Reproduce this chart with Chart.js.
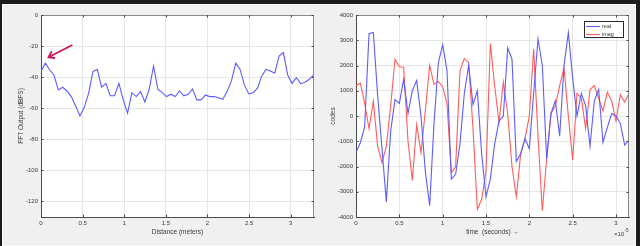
<!DOCTYPE html>
<html>
<head>
<meta charset="utf-8">
<script src="https://cdn.jsdelivr.net/npm/chart.js@4.4.0/dist/chart.umd.min.js"></script>
<style>
html, body { margin: 0; padding: 0; }
body { width: 640px; height: 246px; background: #1c1c1c; position: relative; overflow: hidden; }
#fig { position: absolute; left: 2px; top: 4px; width: 632px; height: 240px; background: #f0f0f0; border: 1px solid #fbfbfb; }
canvas { position: absolute; top: 0; }
#left { left: 0; }
#right { left: 320px; }
</style>
</head>
<body>
<div id="fig"></div>
<canvas id="left" width="320" height="246"></canvas>
<canvas id="right" width="320" height="246"></canvas>
<script>
'use strict';

// left plot: FFT magnitude vs distance
var distance = [
	0, 0.052, 0.104, 0.156, 0.208, 0.26, 0.312, 0.364, 0.416, 0.468,
	0.52, 0.572, 0.624, 0.676, 0.728, 0.78, 0.832, 0.884, 0.936, 0.988,
	1.04, 1.092, 1.144, 1.196, 1.248, 1.3, 1.352, 1.404, 1.456, 1.508,
	1.56, 1.612, 1.664, 1.716, 1.768, 1.82, 1.872, 1.924, 1.976, 2.028,
	2.08, 2.132, 2.184, 2.236, 2.288, 2.34, 2.392, 2.444, 2.496, 2.548,
	2.6, 2.652, 2.704, 2.756, 2.808, 2.86, 2.912, 2.964, 3.016, 3.068,
	3.12, 3.172, 3.224, 3.276
];
var fftDbfs = [
	-36.4, -31, -35.4, -38.6, -48.2, -46.5, -48.9, -52.5, -58.5, -65,
	-59.4, -50.4, -36.4, -35, -46.5, -44, -52, -52, -44, -54.6,
	-63.2, -50, -52.5, -49.3, -56, -47.8, -32.8, -47.8, -50, -52.5,
	-51, -52.5, -48.9, -52, -51, -47.6, -54.6, -54.6, -51.4, -52.5,
	-52.5, -53.2, -54.2, -49.3, -42.4, -31, -35, -45, -50.8, -50,
	-47.2, -39.2, -35, -36, -37.5, -26.4, -24.2, -38.6, -44, -40.3,
	-44.2, -43.3, -41.4, -38.6
];
var distanceTicks = [0, 0.5, 1, 1.5, 2, 2.5, 3];
var dbfsTicks = [-120, -100, -80, -60, -40, -20, 0];
// arrow annotation, in data units (tail -> tip)
var arrowTail = [0.37, -19.5];
var arrowTip = [0.09, -27.2];

// right plot: raw samples, time in units of 1e-5 s
var time = [
	0, 0.05, 0.1, 0.15, 0.2, 0.25, 0.3, 0.35, 0.4, 0.45,
	0.5, 0.55, 0.6, 0.65, 0.7, 0.75, 0.8, 0.85, 0.9, 0.95,
	1, 1.05, 1.1, 1.15, 1.2, 1.25, 1.3, 1.35, 1.4, 1.45,
	1.5, 1.55, 1.6, 1.65, 1.7, 1.75, 1.8, 1.85, 1.9, 1.95,
	2, 2.05, 2.1, 2.15, 2.2, 2.25, 2.3, 2.35, 2.4, 2.45,
	2.5, 2.55, 2.6, 2.65, 2.7, 2.75, 2.8, 2.85, 2.9, 2.95,
	3, 3.05, 3.1, 3.15
];
var realCodes = [
	-1450, -1060, -420, 3260, 3310, 800, -1300, -3400, -600, 650,
	500, 1450, 100, 1000, 1400, 0, -2200, -3550, -300, 2100,
	2820, 1800, -2500, -2300, -1100, 900, 2000, 450, 1000, -1500,
	-3200, -2500, -1100, -200, 0, 2700, 2250, -1800, -1500, -900,
	-1300, 900, 3050, 2000, -1700, 100, 600, -800, 2000, 3300,
	1500, 0, 900, 400, -1200, 600, 1050, -1050, -450, 100,
	0, -300, -1150, -950
];
var imagCodes = [
	1200, 1300, 500, -500, 580, -1200, -1850, -1200, 400, 2250,
	1950, 1930, -1000, -2550, -350, -1450, 200, 2000, 1250, 1370,
	1150, 500, -2250, -2000, 1800, 2280, 2100, -500, -3700, -3300,
	-2200, 2870, 1200, -250, 1350, 100, -2000, -3200, -1500, -900,
	0, 2650, -800, -3750, -1700, 100, 400, 1200, 1900, 0,
	-1750, 900, 700, -500, 1050, 1200, 700, 200, 950, 600,
	-200, 850, 550, 900
];
var timeTicks = [0, 0.5, 1, 1.5, 2, 2.5, 3];
var codeTicks = [-4000, -3000, -2000, -1000, 0, 1000, 2000, 3000, 4000];

var FONT = '"Liberation Sans", Arial, Helvetica, sans-serif',
	TEXT = '#3a3a3a',
	GRID = '#e6e6e6',
	AXIS = '#4a4a4a',
	BLUE = 'rgb(92, 92, 255)',
	RED = 'rgb(255, 92, 92)';

Chart.defaults.font.family = FONT;
Chart.defaults.color = TEXT;

function pairs(xs, ys) {
	return xs.map(function (x, i) {
		return { x: x, y: ys[i] };
	});
}

function fixedTicks(values) {
	return function (scale) {
		scale.ticks = values.map(function (v) {
			return { value: v };
		});
	};
}

function axis(min, max, tickValues, title, size, titlePad) {
	return {
		type: 'linear',
		min: min,
		max: max,
		afterBuildTicks: fixedTicks(tickValues),
		afterFit: function (scale) {
			if (scale.isHorizontal()) {
				scale.height = size;
			} else {
				scale.width = size;
			}
		},
		grid: { color: GRID, drawTicks: false },
		border: { color: AXIS, width: 1 },
		ticks: {
			font: { size: 6 },
			padding: 3,
			maxRotation: 0,
			autoSkip: false,
			callback: function (v) { return String(v); }
		},
		title: {
			display: true,
			text: title,
			font: { size: 6.5 },
			color: TEXT,
			padding: titlePad
		}
	};
}

// white axes background, drawn before the grid
var whiteArea = {
	id: 'whiteArea',
	beforeDraw: function (chart) {
		var a = chart.chartArea;
		chart.ctx.save();
		chart.ctx.fillStyle = '#fff';
		chart.ctx.fillRect(a.left, a.top, a.right - a.left, a.bottom - a.top);
		chart.ctx.restore();
	}
};

// box on top/right plus small inward tick marks, matlab style
var boxPlugin = {
	id: 'box',
	afterDraw: function (chart) {
		var a = chart.chartArea,
			ctx = chart.ctx,
			sx = chart.scales.x,
			sy = chart.scales.y;
		ctx.save();
		ctx.strokeStyle = '#8a8a8a';
		ctx.lineWidth = 1;
		ctx.beginPath();
		ctx.moveTo(a.left, a.top + 0.5);
		ctx.lineTo(a.right - 0.5, a.top + 0.5);
		ctx.lineTo(a.right - 0.5, a.bottom);
		ctx.stroke();
		ctx.strokeStyle = AXIS;
		ctx.beginPath();
		sx.ticks.forEach(function (t) {
			var px = Math.round(sx.getPixelForValue(t.value)) + 0.5;
			ctx.moveTo(px, a.bottom);
			ctx.lineTo(px, a.bottom - 2.5);
			ctx.moveTo(px, a.top);
			ctx.lineTo(px, a.top + 2.5);
		});
		sy.ticks.forEach(function (t) {
			var py = Math.round(sy.getPixelForValue(t.value)) + 0.5;
			ctx.moveTo(a.left, py);
			ctx.lineTo(a.left + 2.5, py);
			ctx.moveTo(a.right, py);
			ctx.lineTo(a.right - 2.5, py);
		});
		ctx.stroke();
		ctx.restore();
	}
};

var arrowPlugin = {
	id: 'arrow',
	afterDatasetsDraw: function (chart) {
		var sx = chart.scales.x,
			sy = chart.scales.y,
			ctx = chart.ctx,
			x0 = sx.getPixelForValue(arrowTail[0]),
			y0 = sy.getPixelForValue(arrowTail[1]),
			x1 = sx.getPixelForValue(arrowTip[0]),
			y1 = sy.getPixelForValue(arrowTip[1]),
			back = Math.atan2(y0 - y1, x0 - x1),
			head = 6;
		ctx.save();
		ctx.strokeStyle = '#cc1560';
		ctx.lineWidth = 1.8;
		ctx.lineCap = 'round';
		ctx.beginPath();
		ctx.moveTo(x0, y0);
		ctx.lineTo(x1, y1);
		ctx.moveTo(x1 + head * Math.cos(back - 0.6), y1 + head * Math.sin(back - 0.6));
		ctx.lineTo(x1, y1);
		ctx.lineTo(x1 + head * Math.cos(back + 0.6), y1 + head * Math.sin(back + 0.6));
		ctx.stroke();
		ctx.restore();
	}
};

// legend drawn inside the axes, top right
var insideLegend = {
	id: 'insideLegend',
	afterDraw: function (chart) {
		var a = chart.chartArea,
			ctx = chart.ctx,
			w = 40,
			h = 17,
			bx = a.right - 5 - w,
			by = a.top + 6;
		ctx.save();
		ctx.fillStyle = '#fff';
		ctx.fillRect(bx, by, w, h);
		ctx.strokeStyle = '#2a2a2a';
		ctx.lineWidth = 1;
		ctx.strokeRect(bx + 0.5, by + 0.5, w - 1, h - 1);
		ctx.font = '5.5px ' + FONT;
		ctx.textBaseline = 'middle';
		chart.data.datasets.forEach(function (ds, i) {
			var ly = Math.round(by + 5 + i * 7.5) + 0.5;
			ctx.strokeStyle = ds.borderColor;
			ctx.lineWidth = 1.1;
			ctx.beginPath();
			ctx.moveTo(bx + 2, ly);
			ctx.lineTo(bx + 16, ly);
			ctx.stroke();
			ctx.fillStyle = TEXT;
			ctx.fillText(ds.label, bx + 18, ly);
		});
		ctx.restore();
	}
};

var exponentLabel = {
	id: 'exponent',
	afterDraw: function (chart) {
		var a = chart.chartArea,
			ctx = chart.ctx,
			x = a.right - 15;
		ctx.save();
		ctx.fillStyle = TEXT;
		ctx.textBaseline = 'middle';
		ctx.font = '6px ' + FONT;
		ctx.fillText('\u00d710', x, 234);
		var w = ctx.measureText('\u00d710').width;
		ctx.font = '4.5px ' + FONT;
		ctx.fillText('-5', x + w + 0.3, 231);
		ctx.restore();
	}
};

new Chart(document.getElementById('left'), {
	type: 'line',
	data: {
		datasets: [{
			label: 'FFT',
			data: pairs(distance, fftDbfs),
			borderColor: BLUE,
			borderWidth: 1.1,
			pointRadius: 0,
			tension: 0
		}]
	},
	options: {
		responsive: false,
		animation: false,
		devicePixelRatio: 1,
		layout: { padding: { left: 0, top: 15, right: 6, bottom: 0 } },
		plugins: { legend: { display: false }, tooltip: { enabled: false } },
		scales: {
			x: axis(0, 3.28, distanceTicks, 'Distance (meters)', 29, { top: 0, bottom: 9.6 }),
			y: axis(-130, 0, dbfsTicks, 'FFT Output (dBFS)', 41, { top: 17, bottom: 0 })
		}
	},
	plugins: [whiteArea, boxPlugin, arrowPlugin]
});

new Chart(document.getElementById('right'), {
	type: 'line',
	data: {
		datasets: [{
			label: 'real',
			data: pairs(time, realCodes),
			borderColor: BLUE,
			borderWidth: 1.1,
			pointRadius: 0,
			tension: 0
		}, {
			label: 'imag',
			data: pairs(time, imagCodes),
			borderColor: RED,
			borderWidth: 1.1,
			pointRadius: 0,
			tension: 0
		}]
	},
	options: {
		responsive: false,
		animation: false,
		devicePixelRatio: 1,
		layout: { padding: { left: 0, top: 15, right: 11, bottom: 0 } },
		plugins: { legend: { display: false }, tooltip: { enabled: false } },
		scales: {
			x: axis(0, 3.15, timeTicks, 'time  (seconds) \u2192', 29, { top: 0, bottom: 9.6 }),
			y: axis(-4000, 4000, codeTicks, 'codes', 36, { top: 9.1, bottom: 0 })
		}
	},
	plugins: [whiteArea, boxPlugin, insideLegend, exponentLabel]
});
</script>
</body>
</html>
